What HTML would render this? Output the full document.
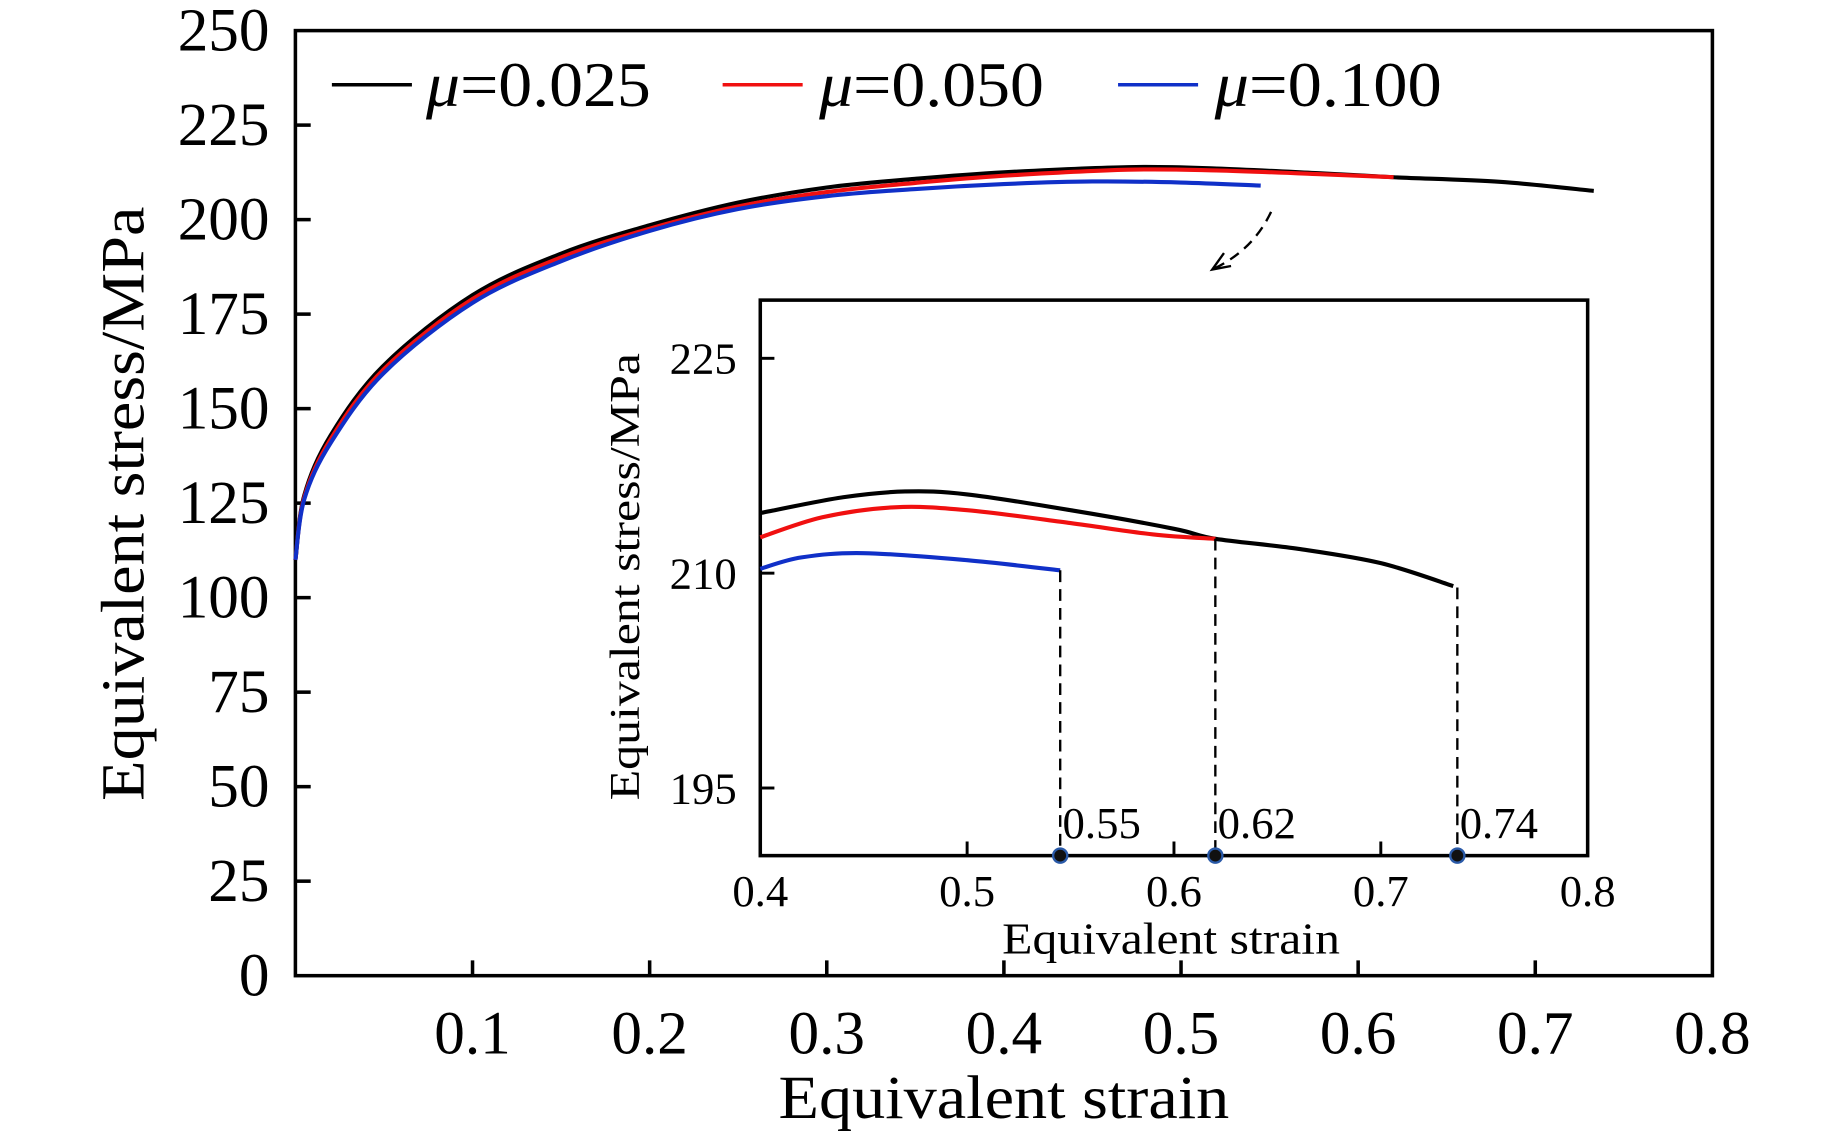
<!DOCTYPE html>
<html><head><meta charset="utf-8"><style>
html,body{margin:0;padding:0;background:#fff}
svg{display:block}
text{font-family:"Liberation Serif",serif;fill:#000}
</style></head><body>
<svg width="1843" height="1138" viewBox="0 0 1552 958.3" preserveAspectRatio="none" id="c">
<rect x="251" y="26" width="1204" height="803" fill="none" stroke="#000" stroke-width="3"/>
<g id="main"></g>
<g>
 <line x1="282" y1="72" x2="350" y2="72" stroke="#000" stroke-width="3"/>
 <text x="362" y="90" font-size="54" textLength="191" lengthAdjust="spacingAndGlyphs"><tspan font-style="italic">μ</tspan>=0.025</text>
 <line x1="614" y1="72" x2="682" y2="72" stroke="#f01010" stroke-width="3"/>
 <text x="696" y="90" font-size="54" textLength="191" lengthAdjust="spacingAndGlyphs"><tspan font-style="italic">μ</tspan>=0.050</text>
 <line x1="950" y1="72" x2="1018" y2="72" stroke="#1030c8" stroke-width="3"/>
 <text x="1032" y="90" font-size="54" textLength="193" lengthAdjust="spacingAndGlyphs"><tspan font-style="italic">μ</tspan>=0.100</text>
</g>
<text transform="translate(122,428) rotate(-90)" text-anchor="middle" font-size="52" textLength="505" lengthAdjust="spacingAndGlyphs">Equivalent stress/MPa</text>
<text x="853" y="950" text-anchor="middle" font-size="52" textLength="383" lengthAdjust="spacingAndGlyphs">Equivalent strain</text>
<path d="M1080,180 Q1065,212 1032,228" fill="none" stroke="#000" stroke-width="2" stroke-dasharray="9,6"/>
<path d="M1040,215 L1030,229 L1046,226" fill="none" stroke="#000" stroke-width="2"/>
<rect x="646" y="255" width="703" height="472" fill="#fff" stroke="#000" stroke-width="3"/>
<g id="inset"></g>
<text transform="translate(543,490) rotate(-90)" text-anchor="middle" font-size="36" textLength="380" lengthAdjust="spacingAndGlyphs">Equivalent stress/MPa</text>
<text x="995" y="810" text-anchor="middle" font-size="38" textLength="287" lengthAdjust="spacingAndGlyphs">Equivalent strain</text>
</svg>
<script>
const NS="http://www.w3.org/2000/svg";
// main chart data
const mainXTicks=[0.1,0.2,0.3,0.4,0.5,0.6,0.7,0.8];
const mainYTicks=[0,25,50,75,100,125,150,175,200,225,250];
const strainBlack=[0,0.005,0.02,0.05,0.1,0.15,0.2,0.25,0.3,0.35,0.4,0.47,0.52,0.58,0.62,0.68,0.733];
const stressBlack=[110,127,143,161.5,180,191,198.5,204.5,208.5,210.8,212.5,213.9,213.5,212.2,211.2,210,207.6];
const strainRed=[0,0.005,0.02,0.05,0.1,0.15,0.2,0.25,0.3,0.35,0.4,0.47,0.52,0.58,0.62];
const stressRed=[110,126.5,142,160.5,179,190,197.6,203.5,207.3,209.7,211.6,213.2,213,212,211.2];
const strainBlue=[0,0.005,0.02,0.05,0.1,0.15,0.2,0.25,0.3,0.35,0.4,0.45,0.5,0.545];
const stressBlue=[110,126,141,159.5,178,189,197,202.8,206.2,208.1,209.4,210.1,209.8,209];
// inset data
const insetXTicks=[0.4,0.5,0.6,0.7,0.8];
const insetYTicks=[195,210,225];
const inStrainBlack=[0.4,0.44,0.47,0.5,0.55,0.6,0.62,0.66,0.7,0.735];
const inStressBlack=[214.2,215.3,215.7,215.5,214.4,213.1,212.4,211.7,210.7,209.1];
const inStrainRed=[0.4,0.43,0.465,0.5,0.55,0.59,0.62];
const inStressRed=[212.5,213.9,214.6,214.4,213.5,212.7,212.4];
const inStrainBlue=[0.4,0.42,0.45,0.5,0.545];
const inStressBlue=[210.3,211.1,211.4,210.9,210.2];
const failStrain=[0.55,0.62,0.74];
const failEndStrain=[0.545,0.62,0.737];
const failEndStress=[210.2,212.4,209.0];

const S=1.009;
const mx=v=>251+v*1505, my=v=>829-v*3.212;
const ix=v=>646+(v-0.4)*1757.5, iy=v=>487-(v-210)*12.17;
document.getElementById("c").setAttribute("viewBox","0 0 "+(1552*S)+" "+(958.3*S));

function el(tag,attrs,parent){const e=document.createElementNS(NS,tag);for(const k in attrs)e.setAttribute(k,attrs[k]);parent.appendChild(e);return e;}
function pathD(xs,ys,fx,fy){
  const P=xs.map((x,i)=>[fx(x),fy(ys[i])]);
  let d="M"+P[0][0].toFixed(1)+","+P[0][1].toFixed(1);
  for(let i=0;i<P.length-1;i++){
    const p0=P[Math.max(0,i-1)],p1=P[i],p2=P[i+1],p3=P[Math.min(P.length-1,i+2)];
    const c1=[p1[0]+(p2[0]-p0[0])/6,p1[1]+(p2[1]-p0[1])/6];
    const c2=[p2[0]-(p3[0]-p1[0])/6,p2[1]-(p3[1]-p1[1])/6];
    d+=" C"+c1[0].toFixed(1)+","+c1[1].toFixed(1)+" "+c2[0].toFixed(1)+","+c2[1].toFixed(1)+" "+p2[0].toFixed(1)+","+p2[1].toFixed(1);
  }
  return d;
}

const gm=document.getElementById("main");
mainXTicks.forEach(t=>{
  if(t<0.8){const l=el("line",{x1:mx(t),x2:mx(t),y1:829,y2:816,stroke:"#000","stroke-width":3},gm);
  
  }
  const tx=el("text",{x:mx(t),y:895,"text-anchor":"middle","font-size":52},gm);tx.textContent=t.toFixed(1);
  
  
});
mainYTicks.forEach(t=>{
  if(t>0&&t<250){const l=el("line",{x1:251,x2:264,y1:my(t),y2:my(t),stroke:"#000","stroke-width":3},gm);
  
  }
  const tx=el("text",{x:229,y:my(t)+17,"text-anchor":"end","font-size":52},gm);tx.textContent=t;
  
  
});
[[strainBlack,stressBlack,"#000","series-mu-0025"],[strainRed,stressRed,"#f01010","series-mu-0050"],[strainBlue,stressBlue,"#1030c8","series-mu-0100"]].forEach(s=>{
  const p=el("path",{d:pathD(s[0],s[1],mx,my),fill:"none",stroke:s[2],"stroke-width":3.5,"stroke-linejoin":"round"},gm);
  
  
});

const gi=document.getElementById("inset");
insetXTicks.forEach(t=>{
  if(t>0.4&&t<0.8){const l=el("line",{x1:ix(t),x2:ix(t),y1:727,y2:715,stroke:"#000","stroke-width":2.5},gi);
  
  }
  const tx=el("text",{x:ix(t),y:770,"text-anchor":"middle","font-size":38},gi);tx.textContent=t.toFixed(1);
  
  
});
insetYTicks.forEach(t=>{
  const l=el("line",{x1:646,x2:658,y1:iy(t),y2:iy(t),stroke:"#000","stroke-width":2.5},gi);
  
  
  const tx=el("text",{x:626,y:iy(t)+13,"text-anchor":"end","font-size":38},gi);tx.textContent=t;
  
  
});
[[inStrainBlack,inStressBlack,"#000","inset-series-mu-0025"],[inStrainRed,inStressRed,"#f01010","inset-series-mu-0050"],[inStrainBlue,inStressBlue,"#1030c8","inset-series-mu-0100"]].forEach(s=>{
  const p=el("path",{d:pathD(s[0],s[1],ix,iy),fill:"none",stroke:s[2],"stroke-width":3.5,"stroke-linejoin":"round"},gi);
  
  
});
failStrain.forEach((f,i)=>{
  const x=ix(failEndStrain[i]);
  const l=el("line",{x1:x,x2:x,y1:iy(failEndStress[i]),y2:727,stroke:"#000","stroke-width":2,"stroke-dasharray":"10,6"},gi);
  
  
  const d=el("circle",{cx:x,cy:727,r:6,fill:"#111",stroke:"#2a5aa8","stroke-width":2},gi);
  
  
  const tx=el("text",{x:x+2,y:712,"font-size":38},gi);tx.textContent=f.toFixed(2);
  
  
});
</script>
</body></html>
